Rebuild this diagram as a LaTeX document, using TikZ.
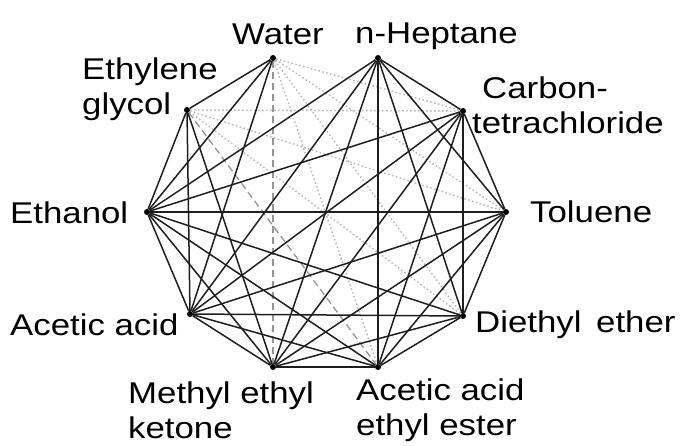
\documentclass[tikz,border=0pt]{standalone}
\usepackage{fontspec}
\setmainfont{Liberation Sans}[FakeStretch=1.16]
\usepackage{tikz}
\usetikzlibrary{positioning,calc}
\definecolor{edgeline}{HTML}{1E1E1E}
\definecolor{partline}{HTML}{959595}
\definecolor{noline}{HTML}{B5B5B5}

\tikzset{
 solv/.style={circle,fill=black,inner sep=0pt,minimum size=6pt},
 lab/.style={inner sep=0pt,anchor=west,align=left,font=\fontsize{30}{35}\selectfont},
 mix/.style={edgeline,line width=1.5pt},
 part/.style={partline,line width=1.3pt,dash pattern=on 7pt off 4pt},
 nomix/.style={noline,line width=1.4pt,dash pattern=on 1.5pt off 2.5pt}
}

\begin{document}
\begin{tikzpicture}[x=1pt,y=-1pt]
\useasboundingbox (0,0) rectangle (683,446);
% solvents on the ring
\foreach \n/\x/\y in {W/273/58,H/378/58,C/463/111,T/506/212,D/463/316,E/378/367,M/273/367,A/190/314,Et/147/212,G/187/110} {
 \node[solv] (\n) at (\x,\y) {};
}
% immiscible, partly miscible
\foreach \a/\b in {W/C,W/T,W/D,W/E,G/C,G/T,G/D} {
 \draw[nomix] (\a) -- (\b);
}
\foreach \a/\b in {W/M,G/E} {
 \draw[part] (\a) -- (\b);
}
% miscible
\foreach \a/\b in {W/G,W/Et,W/A,G/Et,G/A,G/M,
 H/C,H/T,H/D,H/E,H/M,H/A,H/Et,
 C/T,C/D,C/E,C/M,C/A,C/Et,
 T/D,T/E,T/M,T/A,T/Et,
 D/E,D/M,D/A,D/Et,
 E/M,E/A,E/Et,M/A,M/Et,A/Et} {
 \draw[mix] (\a) -- (\b);
}
% names
\node[lab] (lW) at (232,34) {Water};
\node[lab] (lH) at (355,36) {n-Heptane};
\node[lab] (lG) at (82,89) {Ethylene\\glycol};
\node[lab] (lC) at (472,105) {\hspace{10pt}Carbon-\\tetrachloride};
\node[lab] (lT) at (530,212) {Toluene};
\node[lab] (lEt) at (10,213) {Ethanol};
\node[lab] (lA) at (10,325) {Acetic acid};
\node[lab] (lD) at (475,325) {Diethyl\hspace{5pt} ether};
\node[lab] (lM) at (128,410) {Methyl ethyl\\ketone};
\node[lab] (lE) at (356,410) {Acetic acid\\ethyl ester};
\end{tikzpicture}
\end{document}
